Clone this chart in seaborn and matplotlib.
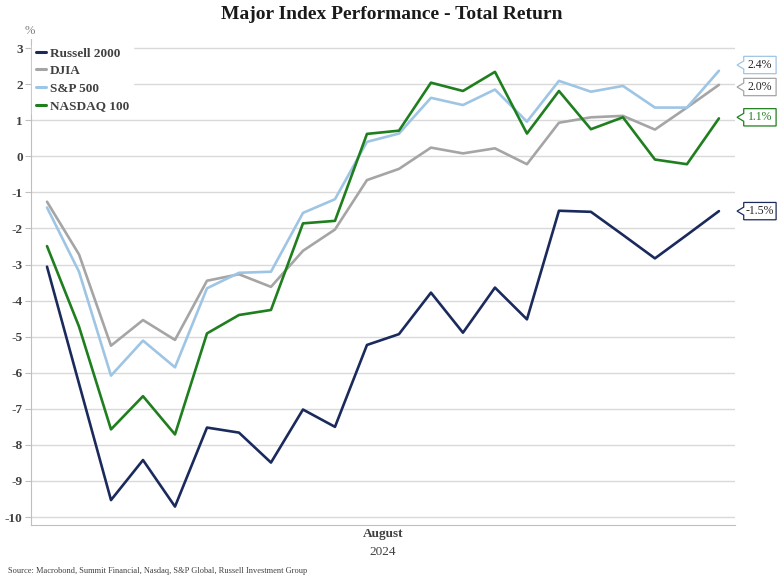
import numpy as np
import pandas as pd
import matplotlib
matplotlib.use("Agg")
import matplotlib.pyplot as plt
from matplotlib.patches import Polygon
from matplotlib.lines import Line2D
import seaborn as sns

# --- dados (retorno total acumulado em %, pregões de agosto/2024) ---
pregoes = [1, 2, 5, 6, 7, 8, 9, 12, 13, 14, 15, 16, 19, 20, 21, 22, 23, 26, 27, 28, 29, 30]
russell = [-3.06, -6.30, -9.53, -8.42, -9.71, -7.52, -7.66, -8.49, -7.02, -7.50, -5.23,
           -4.93, -3.78, -4.89, -3.64, -4.52, -1.51, -1.54, -2.18, -2.83, -2.18, -1.52]
djia = [-1.26, -2.72, -5.25, -4.54, -5.09, -3.45, -3.27, -3.62, -2.62, -2.03, -0.66,
        -0.35, 0.24, 0.08, 0.22, -0.22, 0.93, 1.08, 1.12, 0.74, 1.35, 1.98]
sp500 = [-1.42, -3.20, -6.08, -5.11, -5.85, -3.66, -3.23, -3.20, -1.57, -1.19, 0.40,
         0.63, 1.62, 1.42, 1.85, 0.96, 2.09, 1.79, 1.95, 1.35, 1.35, 2.37]
nasdaq = [-2.49, -4.72, -7.57, -6.65, -7.71, -4.91, -4.40, -4.26, -1.86, -1.79, 0.62,
          0.71, 2.04, 1.81, 2.34, 0.63, 1.81, 0.75, 1.08, -0.09, -0.22, 1.05]

nomes = ["Russell 2000", "DJIA", "S&P 500", "NASDAQ 100"]
cores = ["#1b2a5c", "#a5a5a5", "#9fc5e4", "#1f7f1f"]
# deslocamento vertical dos rótulos finais (para não sobrepor)
desloc = [0.0, -0.06, 0.16, 0.03]

series = [russell, djia, sp500, nasdaq]
df = pd.concat([
    pd.DataFrame({"pos": np.arange(len(pregoes)), "ret": s, "indice": n})
    for s, n in zip(series, nomes)
])

# --- estilo ---
sns.set_style("white")
plt.rcParams["font.family"] = ["Liberation Serif", "DejaVu Serif"]

fig = plt.figure(figsize=(7.83, 5.79), dpi=100)
ax = fig.add_axes([0.0396, 0.0933, 0.899, 0.8393])

sns.lineplot(data=df, x="pos", y="ret", hue="indice", palette=dict(zip(nomes, cores)),
             linewidth=1.9, ax=ax, legend=False, zorder=3)

ax.set_xlim(-0.5, len(pregoes) - 0.5)
ax.set_ylim(-10.22, 3.25)
ax.set_yticks(range(-10, 4))
ax.set_yticklabels([str(v) for v in range(-10, 4)], fontsize=9.5, fontweight="bold",
                   color="#404040")
ax.yaxis.grid(True, color="#d9d9d9", linewidth=1.0)
ax.set_axisbelow(True)
ax.tick_params(axis="y", length=4, width=0.8, color="#bfbfbf", pad=2, left=True)
ax.set_xticks([(len(pregoes) - 1) / 2])
ax.set_xticklabels(["August"], fontsize=9.5, fontweight="bold", color="#404040")
ax.tick_params(axis="x", length=0, pad=2.5)
ax.text(0.5, -0.043, "2024", transform=ax.transAxes, ha="center", va="top",
        fontsize=9.5, color="#404040")
ax.set_xlabel("")
ax.set_ylabel("")

for lado in ["top", "right"]:
    ax.spines[lado].set_visible(False)
ax.spines["left"].set_color("#bfbfbf")
ax.spines["bottom"].set_color("#bfbfbf")

ax.text(-0.002, 1.017, "%", transform=ax.transAxes, ha="center", va="center",
        fontsize=9, color="#7f7f7f")

# legenda
alcas = [Line2D([], [], color=c, linewidth=2.2) for c in cores]
leg = ax.legend(alcas, nomes, loc="upper left", bbox_to_anchor=(0.002, 0.991),
                borderaxespad=0, frameon=True, handlelength=0.75, handletextpad=0.25,
                labelspacing=0.4, borderpad=0.3, prop={"weight": "bold", "size": 9.5})
leg.get_frame().set_facecolor("white")
leg.get_frame().set_edgecolor("white")
leg.get_frame().set_alpha(1)
for t in leg.get_texts():
    t.set_color("#404040")

# rótulos de fim de série (caixas com seta)
trans = ax.get_yaxis_transform()
x_ponta, x0, x1 = 1.003, 1.0125, 1.0585
h = 0.24
for s, n, c, d in zip(series, nomes, cores, desloc):
    y = s[-1] + d
    verts = [(x0, y + h), (x1, y + h), (x1, y - h), (x0, y - h),
             (x0, y - 0.11), (x_ponta, y), (x0, y + 0.11)]
    ax.add_patch(Polygon(verts, closed=True, transform=trans, facecolor="white",
                         edgecolor=c, linewidth=0.9, clip_on=False, zorder=5))
    cor_txt = c if n == "NASDAQ 100" else "#262626"
    ax.text((x0 + x1) / 2, y, f"{s[-1]:.1f}%", transform=trans, ha="center",
            va="center", fontsize=8.5, color=cor_txt, zorder=6, clip_on=False)

fig.text(0.5, 0.975, "Major Index Performance - Total Return", ha="center", va="center",
         fontsize=14, fontweight="bold", color="#1a1a1a")
fig.text(0.01, 0.013, "Source: Macrobond, Summit Financial, Nasdaq, S&P Global, "
         "Russell Investment Group", ha="left", va="center", fontsize=6, color="#404040")

fig.savefig("out.png", dpi=100)
